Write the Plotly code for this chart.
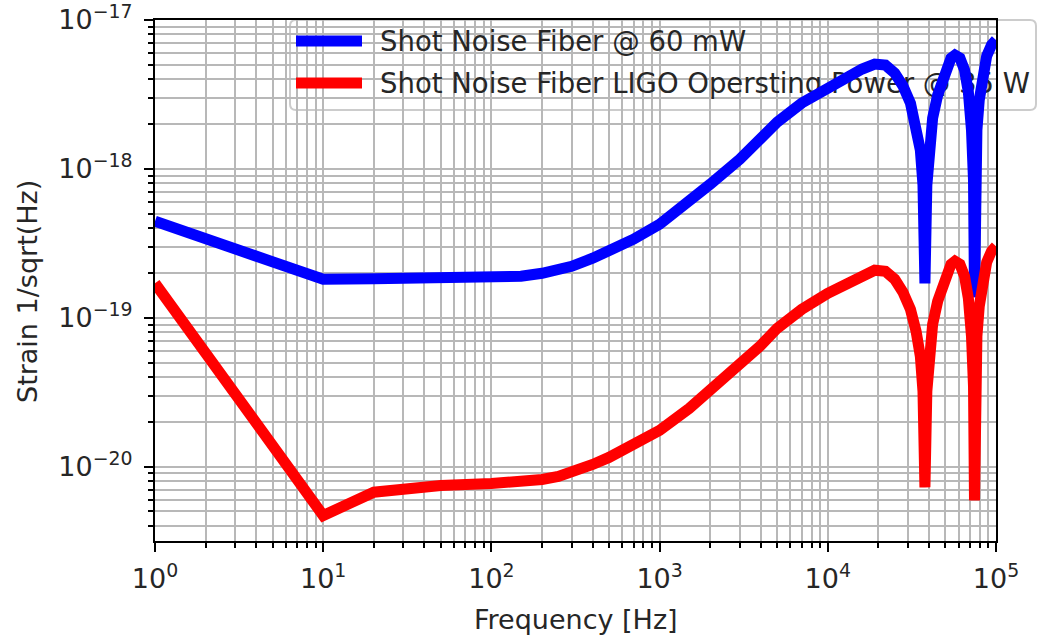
import plotly.graph_objects as go

# ---------------- data ----------------
freq_blue = [1, 10, 20, 50, 100, 150, 200, 250, 300, 400, 500, 700, 1000, 1500, 2000, 3000,
             4000, 5000, 7000, 10000, 13000, 16000, 19000, 22000, 25000, 28000, 31000,
             33500, 35500, 36800, 37800, 38800, 40000, 42000, 45000, 50000, 54000, 57000,
             61000, 65000, 68500, 71500, 73500, 74500, 75500, 77000, 79500, 83000, 88000,
             94000, 100000]
strain_blue = [4.448e-19, 1.812e-19, 1.827e-19, 1.841e-19, 1.870e-19, 1.898e-19, 1.989e-19,
               2.083e-19, 2.216e-19, 2.509e-19, 2.796e-19, 3.367e-19, 4.247e-19, 5.971e-19,
               7.890e-19, 1.162e-18, 1.584e-18, 2.061e-18, 2.766e-18, 3.543e-18, 4.137e-18,
               4.683e-18, 5.059e-18, 4.982e-18, 4.401e-18, 3.599e-18, 2.766e-18, 1.968e-18,
               1.336e-18, 7.770e-19, 1.703e-19, 7.770e-19, 1.336e-18, 2.193e-18, 3.131e-18,
               4.756e-18, 5.551e-18, 5.816e-18, 5.551e-18, 4.611e-18, 3.280e-18, 1.821e-18,
               8.395e-19, 1.371e-19, 7.770e-19, 1.821e-18, 2.897e-18, 4.470e-18, 5.727e-18,
               6.790e-18, 7.337e-18]

freq_red = [1, 10, 20, 50, 100, 150, 200, 250, 300, 400, 500, 700, 1000, 1500, 2000, 3000,
            4000, 5000, 7000, 10000, 13000, 16000, 19000, 22000, 25000, 28000, 31000,
            33500, 35500, 36800, 37800, 38800, 40000, 42000, 45000, 50000, 54000, 57000,
            61000, 65000, 68500, 71500, 73500, 74500, 75500, 77000, 79500, 83000, 88000,
            94000, 100000]
strain_red = [1.703e-19, 4.690e-21, 6.727e-21, 7.464e-21, 7.698e-21, 7.820e-21, 8.190e-21,
              8.580e-21, 9.130e-21, 1.033e-20, 1.152e-20, 1.387e-20, 1.749e-20, 2.459e-20,
              3.250e-20, 4.786e-20, 6.525e-20, 8.489e-20, 1.139e-19, 1.459e-19, 1.704e-19,
              1.929e-19, 2.084e-19, 2.051e-19, 1.813e-19, 1.482e-19, 1.139e-19, 8.106e-20,
              5.503e-20, 3.200e-20, 7.240e-21, 3.200e-20, 5.503e-20, 9.033e-20, 1.290e-19,
              1.959e-19, 2.286e-19, 2.396e-19, 2.286e-19, 1.899e-19, 1.351e-19, 7.501e-20,
              3.458e-20, 5.920e-21, 3.200e-20, 7.501e-20, 1.193e-19, 1.841e-19, 2.359e-19,
              2.797e-19, 3.022e-19]

series_names = ["Shot Noise Fiber @ 60 mW",
                "Shot Noise Fiber LIGO Opersting Power @ 35 W"]
series_colors = ["#0000ff", "#ff0000"]

x_exponents = [0, 1, 2, 3, 4, 5]
y_exponents = [-20, -19, -18, -17]
x_title = "Frequency [Hz]"
y_title = "Strain 1/sqrt(Hz)"

# ---------------- layout constants ----------------
W, H = 1039, 641
L, R, T, B = 155, 43, 20, 100
PW, PH = W - L - R, H - T - B
XR = [0, 5]
YR = [-20.5, -17.0]
FONT = "DejaVu Sans, Verdana, sans-serif"
TXT = "#262626"
GRID = "#b8b8b8"
FS = 27
LFS = 27.5

def sup(e):
    return "10<sup>" + ("\u2212" if e < 0 else "") + str(abs(e)) + "</sup>"

def minor_vals(lo, hi):
    out = []
    for k in range(lo, hi):
        for m in range(2, 10):
            out.append(m * 10.0 ** k)
    return out

def fx(px):  # pixel column -> paper fraction
    return (px - L) / PW

def fy(py):  # pixel row -> paper fraction
    return (H - B - py) / PH

def data_x(frac):  # paper fraction -> data x (log axis)
    return 10 ** (XR[0] + frac * (XR[1] - XR[0]))

def data_y(frac):
    return 10 ** (YR[0] + frac * (YR[1] - YR[0]))

fig = go.Figure()

# legend box (between grid and traces, as in the reference where curves run over it)
lx0, lx1, ly0, ly1 = fx(290), fx(1036), fy(110), fy(20)
rx, ry = 6 / PW, 6 / PH
path = (f"M {lx0+rx},{ly1} L {lx1-rx},{ly1} Q {lx1},{ly1} {lx1},{ly1-ry} "
        f"L {lx1},{ly0+ry} Q {lx1},{ly0} {lx1-rx},{ly0} L {lx0+rx},{ly0} "
        f"Q {lx0},{ly0} {lx0},{ly0+ry} L {lx0},{ly1-ry} Q {lx0},{ly1} {lx0+rx},{ly1} Z")
fig.add_shape(type="path", path=path, xref="paper", yref="paper",
              fillcolor="rgba(255,255,255,0.8)", line=dict(color="#cccccc", width=2),
              layer="between")

row_y_px = [41, 83]
text_y_px = [44, 86]
for i, col in enumerate(series_colors):
    fig.add_shape(type="line", xref="paper", yref="paper",
                  x0=fx(296), x1=fx(362), y0=fy(row_y_px[i]), y1=fy(row_y_px[i]),
                  line=dict(color=col, width=11), layer="above")

fig.add_trace(go.Scatter(
    x=[data_x(fx(380))] * 2,
    y=[data_y(fy(ty)) for ty in text_y_px],
    text=series_names, mode="text", textposition="middle right",
    textfont=dict(family=FONT, size=LFS, color=TXT),
    cliponaxis=False, showlegend=False, hoverinfo="skip"))

fig.add_trace(go.Scatter(x=freq_blue, y=strain_blue, mode="lines", name=series_names[0],
                         line=dict(color=series_colors[0], width=11), showlegend=False))
fig.add_trace(go.Scatter(x=freq_red, y=strain_red, mode="lines", name=series_names[1],
                         line=dict(color=series_colors[1], width=11), showlegend=False))

axis_common = dict(
    type="log", showline=True, linecolor="black", linewidth=2, mirror=True,
    ticks="outside", ticklen=9, tickwidth=2, tickcolor="black",
    showgrid=True, gridcolor=GRID, gridwidth=2, zeroline=False, automargin=False,
    tickfont=dict(family=FONT, size=FS, color=TXT), tickmode="array",
)

fig.update_xaxes(
    **axis_common, range=XR,
    tickvals=[10 ** e for e in x_exponents], ticktext=[sup(e) for e in x_exponents],
    minor=dict(tickmode="array", tickvals=minor_vals(0, 5), ticks="outside",
               ticklen=5, tickwidth=1.5, tickcolor="black", showgrid=True,
               gridcolor=GRID, gridwidth=2),
    ticklabelstandoff=4,
)
fig.update_yaxes(
    **axis_common, range=YR,
    tickvals=[10.0 ** e for e in y_exponents], ticktext=[sup(e) for e in y_exponents],
    minor=dict(tickmode="array", tickvals=minor_vals(-21, -17), ticks="outside",
               ticklen=5, tickwidth=1.5, tickcolor="black", showgrid=True,
               gridcolor=GRID, gridwidth=2),
    ticklabelstandoff=6,
)

fig.add_annotation(text=x_title, xref="paper", yref="paper",
                   x=0.5, y=fy(619), xanchor="center", yanchor="middle",
                   showarrow=False, font=dict(family=FONT, size=FS, color=TXT))
fig.add_annotation(text=y_title, xref="paper", yref="paper", textangle=-90,
                   x=fx(27), y=fy(292), xanchor="center", yanchor="middle",
                   showarrow=False, font=dict(family=FONT, size=FS, color=TXT))

fig.update_layout(
    width=W, height=H, margin=dict(l=L, r=R, t=T, b=B),
    paper_bgcolor="white", plot_bgcolor="white", showlegend=False,
    font=dict(family=FONT, size=FS, color=TXT),
)

fig.write_html("out.html")
